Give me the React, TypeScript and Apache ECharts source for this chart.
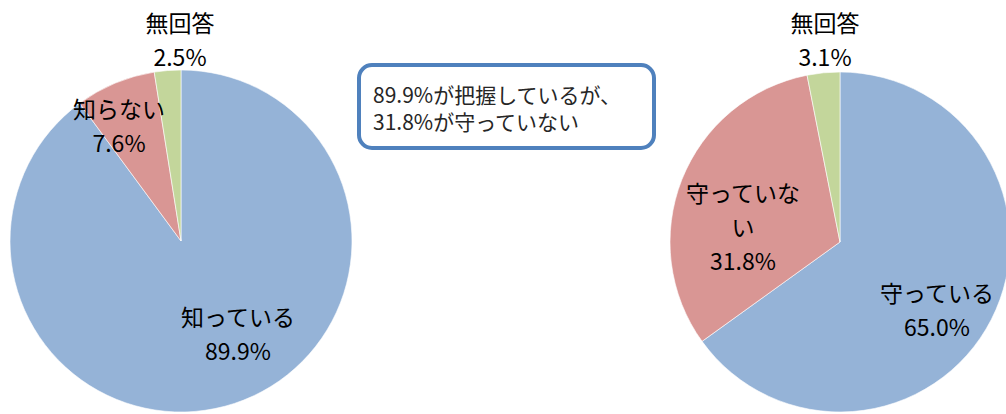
import React, { useEffect, useRef } from "react";
import * as echarts from "echarts";

const leftCategories = ["知っている", "知らない", "無回答"];
const leftValues = [89.9, 7.6, 2.5];
const rightCategories = ["守っている", "守っていない", "無回答"];
const rightLabelText = ["守っている", "守っていな\nい", "無回答"];
const rightValues = [65.0, 31.8, 3.1];
const noteLines = ["89.9%が把握しているが、", "31.8%が守っていない"];

const colors = ["#95B3D7", "#D99694", "#C3D69B"];

// label centre positions (layout only)
const leftLabelPos = [
  [238, 333],
  [119, 125],
  [180, 39],
];
const rightLabelPos = [
  [937, 309],
  [743, 226],
  [825, 39],
];

const FONT = "'Noto Sans CJK JP', 'Noto Sans', sans-serif";

export default function App() {
  const ref = useRef<HTMLDivElement>(null);
  useEffect(() => {
    if (!ref.current) return;
    const chart = echarts.init(ref.current, null, { renderer: "svg" });
    const labelStyle = {
      show: true,
      position: "inside",
      color: "#000",
      fontSize: 23,
      lineHeight: 34,
      fontFamily: FONT,
      align: "center",
    };
    const layout = (pos: number[][]) => (p: any) => ({
      x: pos[p.dataIndex][0],
      y: pos[p.dataIndex][1],
      align: "center",
      verticalAlign: "middle",
      hideOverlap: false,
      moveOverlap: null,
    });
    chart.setOption({
      animation: false,
      backgroundColor: "#fff",
      color: colors,
      series: [
        {
          type: "pie",
          center: [181, 241],
          radius: 171,
          startAngle: 90,
          clockwise: true,
          avoidLabelOverlap: false,
          itemStyle: { borderColor: "#fff", borderWidth: 0.6 },
          label: {
            ...labelStyle,
            formatter: (p: any) => `${p.name}\n${p.value.toFixed(1)}%`,
          },
          labelLine: { show: false },
          labelLayout: layout(leftLabelPos),
          emphasis: { disabled: true },
          data: leftCategories.map((n, i) => ({ name: n, value: leftValues[i] })),
        },
        {
          type: "pie",
          center: [840, 242],
          radius: 170,
          startAngle: 90,
          clockwise: true,
          avoidLabelOverlap: false,
          itemStyle: { borderColor: "#fff", borderWidth: 0.6 },
          label: {
            ...labelStyle,
            formatter: (p: any) =>
              `${rightLabelText[p.dataIndex]}\n${p.value.toFixed(1)}%`,
          },
          labelLine: { show: false },
          labelLayout: layout(rightLabelPos),
          emphasis: { disabled: true },
          data: rightCategories.map((n, i) => ({ name: n, value: rightValues[i] })),
        },
      ],
      graphic: [
        {
          type: "group",
          children: [
            {
              type: "rect",
              shape: { x: 359, y: 65, width: 295, height: 83, r: 13 },
              style: { fill: "#fff", stroke: "#4F81BD", lineWidth: 4 },
            },
            {
              type: "text",
              x: 373,
              y: 80,
              style: {
                text: noteLines.join("\n"),
                fill: "#262626",
                fontSize: 21,
                lineHeight: 27,
                fontFamily: FONT,
                textAlign: "left",
                textVerticalAlign: "top",
              },
            },
          ],
        },
      ],
    });
    return () => chart.dispose();
  }, []);
  return (
    <div
      ref={ref}
      style={{ position: "fixed", left: 0, top: 0, width: 1006, height: 414 }}
    />
  );
}
